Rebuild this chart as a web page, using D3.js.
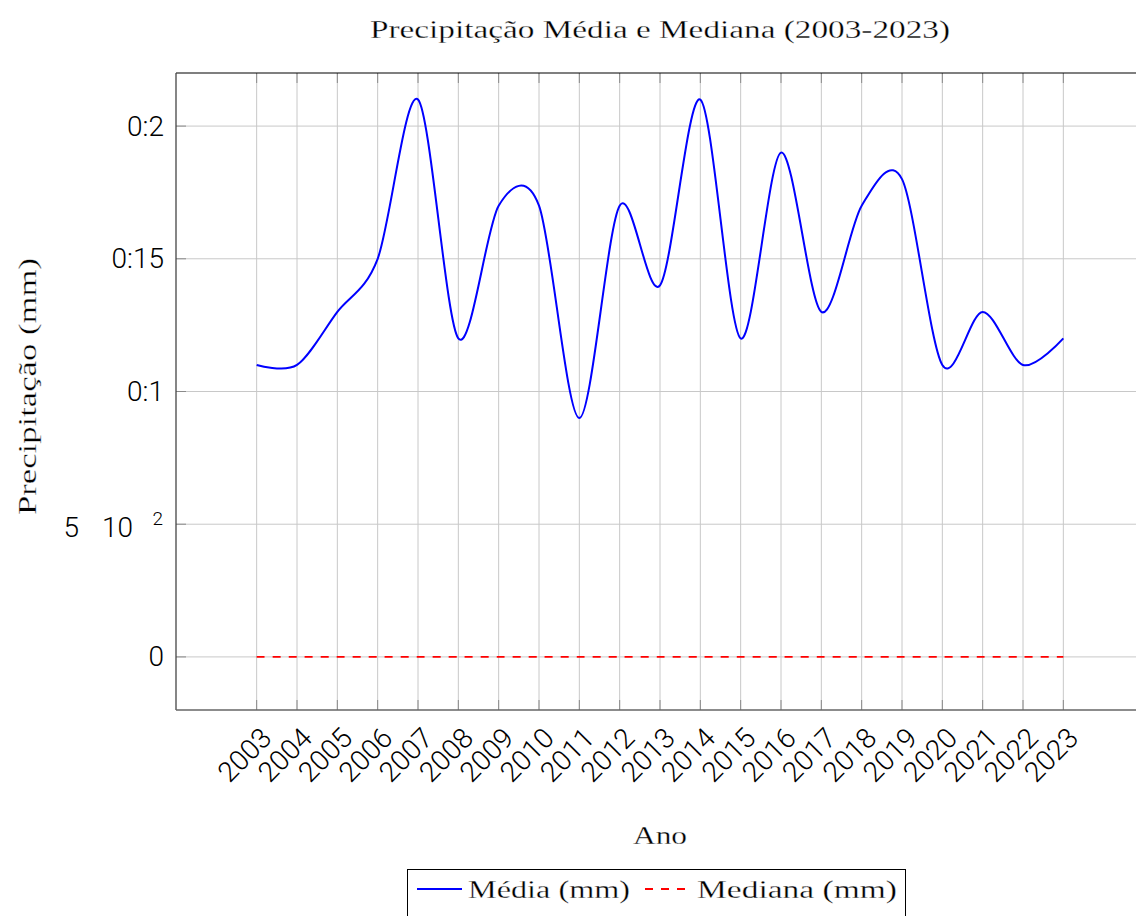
<!DOCTYPE html>
<html>
<head>
<meta charset="utf-8">
<script src="https://cdn.jsdelivr.net/npm/d3@7/dist/d3.min.js"></script>
<style>
  html, body { margin: 0; padding: 0; background: #fff; }
  svg { display: block; }
  .serif { stroke: #fff; stroke-width: 0.3px; paint-order: fill; }
</style>
</head>
<body>
<svg id="chart" width="1136" height="916"></svg>
<script>
// ---- data ----
const years = [2003, 2004, 2005, 2006, 2007, 2008, 2009, 2010, 2011, 2012, 2013,
               2014, 2015, 2016, 2017, 2018, 2019, 2020, 2021, 2022, 2023];
const mediaValues = [0.11, 0.11, 0.13, 0.15, 0.21, 0.12, 0.17, 0.17, 0.09, 0.17, 0.14,
                     0.21, 0.12, 0.19, 0.13, 0.17, 0.18, 0.11, 0.13, 0.11, 0.12];
const medianaValues = [0, 0, 0, 0, 0, 0, 0, 0, 0, 0, 0,
                       0, 0, 0, 0, 0, 0, 0, 0, 0, 0];
const yTicks = [0, 0.05, 0.1, 0.15, 0.2];
const yTickLabels = [["0"], ["5", "10", "2"], ["0:1"], ["0:15"], ["0:2"]];
const titleText = "Precipitação Média e Mediana (2003-2023)";
const xLabelText = "Ano";
const yLabelText = "Precipitação (mm)";
const seriesNames = ["Média (mm)", "Mediana (mm)"];

// ---- layout ----
const svg = d3.select("#chart");
const L = 176, R = 1144, T = 73, B = 710;
const x = d3.scaleLinear().domain([2001, 2025]).range([L, R]);
const y = d3.scaleLinear().domain([-0.02, 0.22]).range([B, T]);

const serif = "'Liberation Serif', 'DejaVu Serif', serif";
const sans = "Roboto, 'Liberation Sans', sans-serif";
const gridColor = "#c8c8c8";
const tickColor = "#8a8a8a";

// grid
const g = svg.append("g");
g.selectAll("line.vg").data(years).join("line")
  .attr("x1", d => x(d)).attr("x2", d => x(d))
  .attr("y1", T).attr("y2", B)
  .attr("stroke", gridColor).attr("stroke-width", 1);
g.selectAll("line.hg").data(yTicks).join("line")
  .attr("x1", L).attr("x2", 1136)
  .attr("y1", d => y(d)).attr("y2", d => y(d))
  .attr("stroke", gridColor).attr("stroke-width", 1);

// tick marks (inside)
g.selectAll("line.tb").data(years).join("line")
  .attr("x1", d => x(d)).attr("x2", d => x(d))
  .attr("y1", B).attr("y2", B - 10)
  .attr("stroke", tickColor).attr("stroke-width", 1);
g.selectAll("line.tt").data(years).join("line")
  .attr("x1", d => x(d)).attr("x2", d => x(d))
  .attr("y1", T).attr("y2", T + 10)
  .attr("stroke", tickColor).attr("stroke-width", 1);
g.selectAll("line.tl").data(yTicks).join("line")
  .attr("x1", L).attr("x2", L + 10)
  .attr("y1", d => y(d)).attr("y2", d => y(d))
  .attr("stroke", tickColor).attr("stroke-width", 1);

// series
const lineGen = d3.line()
  .x((d, i) => x(years[i]))
  .y(d => y(d))
  .curve(d3.curveCardinal.tension(0.08));

svg.append("path").datum(medianaValues)
  .attr("d", lineGen)
  .attr("fill", "none").attr("stroke", "#ff0000")
  .attr("stroke-width", 1.8).attr("stroke-dasharray", "8,8");

svg.append("path").datum(mediaValues)
  .attr("d", lineGen)
  .attr("fill", "none").attr("stroke", "#0000ff")
  .attr("stroke-width", 2);

// frame
svg.append("line").attr("x1", L).attr("x2", 1136).attr("y1", T).attr("y2", T)
  .attr("stroke", "#000").attr("stroke-width", 1.2);
svg.append("line").attr("x1", L).attr("x2", L).attr("y1", T).attr("y2", B)
  .attr("stroke", "#444").attr("stroke-width", 1.3);
svg.append("line").attr("x1", L).attr("x2", 1136).attr("y1", B).attr("y2", B)
  .attr("stroke", "#666").attr("stroke-width", 1.5);

// x tick labels
svg.selectAll("text.xt").data(years).join("text")
  .attr("transform", d => `translate(${x(d) - 12},${755}) rotate(-45)`)
  .attr("text-anchor", "middle")
  .attr("dominant-baseline", "central")
  .attr("font-family", sans).attr("font-weight", 300)
  .attr("font-size", 28).attr("fill", "#000")
  .text(d => String(d));

// y tick labels
yTicks.forEach((v, i) => {
  const parts = yTickLabels[i];
  const yy = y(v);
  if (parts.length === 1) {
    svg.append("text")
      .attr("x", 164).attr("y", yy)
      .attr("text-anchor", "end").attr("dominant-baseline", "central")
      .attr("font-family", sans).attr("font-weight", 300)
      .attr("font-size", 28).attr("fill", "#000")
      .text(parts[0]);
  } else {
    svg.append("text")
      .attr("x", 79).attr("y", yy + 3)
      .attr("text-anchor", "end").attr("dominant-baseline", "central")
      .attr("font-family", sans).attr("font-weight", 300)
      .attr("font-size", 28).attr("fill", "#000")
      .text(parts[0]);
    svg.append("text")
      .attr("x", 133).attr("y", yy + 3)
      .attr("text-anchor", "end").attr("dominant-baseline", "central")
      .attr("font-family", sans).attr("font-weight", 300)
      .attr("font-size", 28).attr("fill", "#000")
      .text(parts[1]);
    svg.append("text")
      .attr("x", 163).attr("y", yy - 6)
      .attr("text-anchor", "end").attr("dominant-baseline", "central")
      .attr("font-family", sans).attr("font-weight", 300)
      .attr("font-size", 19).attr("fill", "#000")
      .text(parts[2]);
  }
});

// title
svg.append("text").attr("class", "serif")
  .attr("x", 660).attr("y", 38)
  .attr("text-anchor", "middle")
  .attr("font-family", serif).attr("font-size", 26)
  .attr("textLength", 580).attr("lengthAdjust", "spacingAndGlyphs")
  .text(titleText);

// x label
svg.append("text").attr("class", "serif")
  .attr("x", 660).attr("y", 844)
  .attr("text-anchor", "middle")
  .attr("font-family", serif).attr("font-size", 26)
  .attr("textLength", 54).attr("lengthAdjust", "spacingAndGlyphs")
  .text(xLabelText);

// y label
svg.append("text").attr("class", "serif")
  .attr("transform", `translate(36,${(T + B) / 2 - 5}) rotate(-90)`)
  .attr("text-anchor", "middle")
  .attr("font-family", serif).attr("font-size", 26)
  .attr("textLength", 257).attr("lengthAdjust", "spacingAndGlyphs")
  .text(yLabelText);

// legend
const leg = svg.append("g");
leg.append("rect")
  .attr("x", 407.5).attr("y", 869.5).attr("width", 498).attr("height", 70)
  .attr("fill", "#fff").attr("stroke", "#000").attr("stroke-width", 1);
leg.append("line").attr("x1", 417).attr("x2", 462).attr("y1", 889).attr("y2", 889)
  .attr("stroke", "#0000ff").attr("stroke-width", 2);
leg.append("text").attr("class", "serif").attr("x", 468).attr("y", 898)
  .attr("font-family", serif).attr("font-size", 26)
  .attr("textLength", 162).attr("lengthAdjust", "spacingAndGlyphs")
  .text(seriesNames[0]);
leg.append("line").attr("x1", 645).attr("x2", 690).attr("y1", 889).attr("y2", 889)
  .attr("stroke", "#ff0000").attr("stroke-width", 1.8).attr("stroke-dasharray", "8,8");
leg.append("text").attr("class", "serif").attr("x", 697).attr("y", 898)
  .attr("font-family", serif).attr("font-size", 26)
  .attr("textLength", 200).attr("lengthAdjust", "spacingAndGlyphs")
  .text(seriesNames[1]);
</script>
</body>
</html>
